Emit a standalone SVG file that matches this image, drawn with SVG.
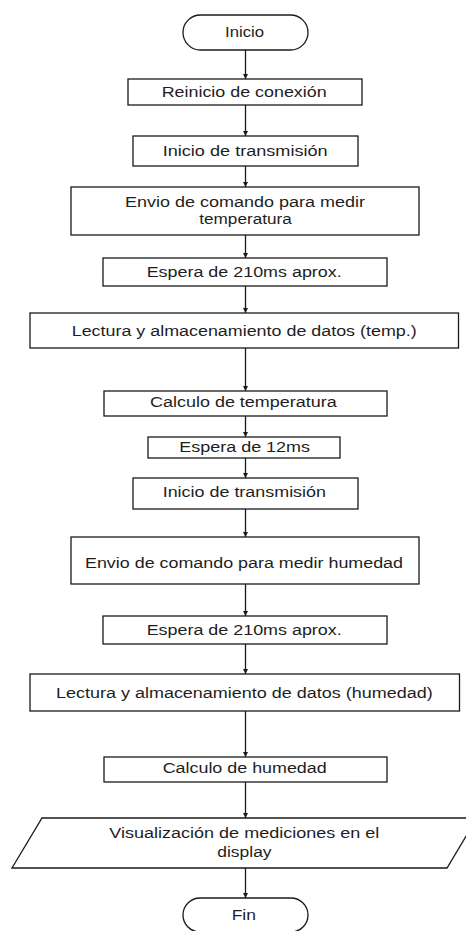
<svg xmlns="http://www.w3.org/2000/svg" width="466" height="931" viewBox="0 0 466 931">
<style>
.box{fill:#fff;stroke:#1a1a1a;stroke-width:1.3}
.t{font-family:"Liberation Sans",Arial,sans-serif;font-size:14px;fill:#1e1e1e}
.c{fill:none;stroke:#1a1a1a;stroke-width:1.3}
</style>
<defs>
<marker id="ah" viewBox="0 0 10 10" refX="10" refY="5" markerWidth="5" markerHeight="5" orient="auto" markerUnits="userSpaceOnUse">
<path d="M0,0 L10,5 L0,10 Z" fill="#1a1a1a"/>
</marker>
</defs>
<rect width="466" height="931" fill="#fff"/>
<g id="connectors">
<line class="c" x1="245.5" y1="50" x2="245.5" y2="79" marker-end="url(#ah)"/>
<line class="c" x1="245.5" y1="105" x2="245.5" y2="136" marker-end="url(#ah)"/>
<line class="c" x1="245.5" y1="166" x2="245.5" y2="187" marker-end="url(#ah)"/>
<line class="c" x1="245.5" y1="235" x2="245.5" y2="258" marker-end="url(#ah)"/>
<line class="c" x1="245.5" y1="286" x2="245.5" y2="313" marker-end="url(#ah)"/>
<line class="c" x1="245.5" y1="348" x2="245.5" y2="391" marker-end="url(#ah)"/>
<line class="c" x1="245.5" y1="416" x2="245.5" y2="437" marker-end="url(#ah)"/>
<line class="c" x1="245.5" y1="458" x2="245.5" y2="478" marker-end="url(#ah)"/>
<line class="c" x1="245.5" y1="509" x2="245.5" y2="537" marker-end="url(#ah)"/>
<line class="c" x1="245.5" y1="584" x2="245.5" y2="616" marker-end="url(#ah)"/>
<line class="c" x1="245.5" y1="644" x2="245.5" y2="674" marker-end="url(#ah)"/>
<line class="c" x1="245.5" y1="711" x2="245.5" y2="757" marker-end="url(#ah)"/>
<line class="c" x1="245.5" y1="782" x2="245.5" y2="818" marker-end="url(#ah)"/>
<line class="c" x1="245.5" y1="868" x2="245.5" y2="898" marker-end="url(#ah)"/>
</g>
<g id="inicio">
<rect class="box" x="183" y="15" width="125" height="35" rx="17.5"/>
<text class="t" x="225" y="37" textLength="39" lengthAdjust="spacingAndGlyphs">Inicio</text>
</g>
<g id="reinicio">
<rect class="box" x="128" y="79" width="234" height="26"/>
<text class="t" x="161.7" y="97.3" textLength="165" lengthAdjust="spacingAndGlyphs">Reinicio de conexión</text>
</g>
<g id="inicio-transmision-1">
<rect class="box" x="133" y="136" width="225" height="30"/>
<text class="t" x="162.7" y="156" textLength="165" lengthAdjust="spacingAndGlyphs">Inicio de transmisión</text>
</g>
<g id="envio-temp">
<rect class="box" x="71" y="187" width="348" height="48"/>
<text class="t" x="125" y="206.5" textLength="240" lengthAdjust="spacingAndGlyphs">Envio de comando para medir</text>
<text class="t" x="199.3" y="223.8" textLength="92.4" lengthAdjust="spacingAndGlyphs">temperatura</text>
</g>
<g id="espera-210-1">
<rect class="box" x="103" y="258" width="284" height="28"/>
<text class="t" x="146.7" y="277.3" textLength="195" lengthAdjust="spacingAndGlyphs">Espera de 210ms aprox.</text>
</g>
<g id="lectura-temp">
<rect class="box" x="30" y="313" width="428.5" height="35"/>
<text class="t" x="71.7" y="335.5" textLength="345" lengthAdjust="spacingAndGlyphs">Lectura y almacenamiento de datos (temp.)</text>
</g>
<g id="calculo-temp">
<rect class="box" x="104" y="391" width="283" height="25"/>
<text class="t" x="150" y="407.3" textLength="186.7" lengthAdjust="spacingAndGlyphs">Calculo de temperatura</text>
</g>
<g id="espera-12">
<rect class="box" x="148" y="437" width="192" height="21"/>
<text class="t" x="179.3" y="451.7" textLength="130.7" lengthAdjust="spacingAndGlyphs">Espera de 12ms</text>
</g>
<g id="inicio-transmision-2">
<rect class="box" x="133" y="478" width="225" height="31"/>
<text class="t" x="162.7" y="496.7" textLength="163.3" lengthAdjust="spacingAndGlyphs">Inicio de transmisión</text>
</g>
<g id="envio-humedad">
<rect class="box" x="71" y="537" width="348" height="47"/>
<text class="t" x="85" y="568.3" textLength="318" lengthAdjust="spacingAndGlyphs">Envio de comando para medir humedad</text>
</g>
<g id="espera-210-2">
<rect class="box" x="103" y="616" width="284" height="28"/>
<text class="t" x="146.7" y="635" textLength="195" lengthAdjust="spacingAndGlyphs">Espera de 210ms aprox.</text>
</g>
<g id="lectura-humedad">
<rect class="box" x="30" y="674" width="429.5" height="37"/>
<text class="t" x="56" y="698.3" textLength="376.7" lengthAdjust="spacingAndGlyphs">Lectura y almacenamiento de datos (humedad)</text>
</g>
<g id="calculo-humedad">
<rect class="box" x="104" y="757" width="283" height="25"/>
<text class="t" x="162.7" y="773.3" textLength="164" lengthAdjust="spacingAndGlyphs">Calculo de humedad</text>
</g>
<g id="visualizacion">
<polygon class="box" points="42,818 477,818 447,868 12,868"/>
<text class="t" x="109.3" y="838.3" textLength="270" lengthAdjust="spacingAndGlyphs">Visualización de mediciones en el</text>
<text class="t" x="217.3" y="857.3" textLength="54.3" lengthAdjust="spacingAndGlyphs">display</text>
</g>
<g id="fin">
<rect class="box" x="183" y="898" width="125" height="34" rx="17"/>
<text class="t" x="231.7" y="920" textLength="24.3" lengthAdjust="spacingAndGlyphs">Fin</text>
</g>
</svg>
